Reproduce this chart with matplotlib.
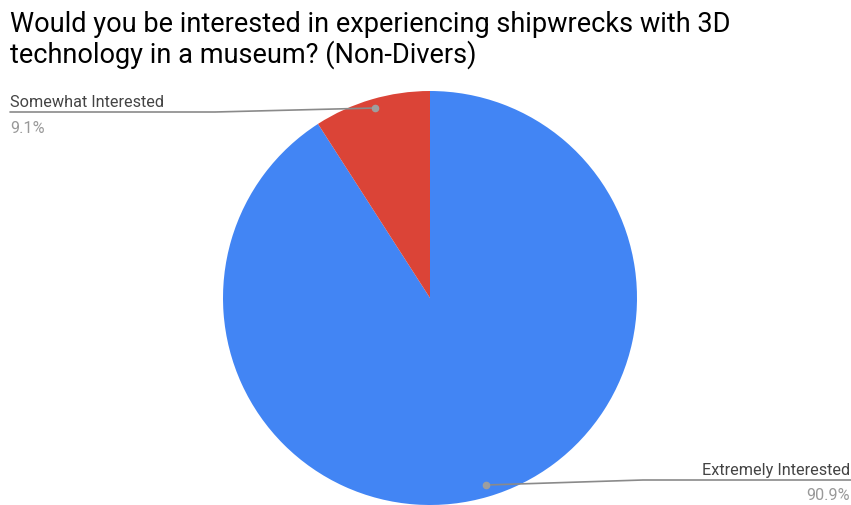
import matplotlib
matplotlib.use("Agg")
import matplotlib.pyplot as plt

TITLE_LINES = ["Would you be interested in experiencing shipwrecks with 3D",
               "technology in a museum? (Non-Divers)"]
LABELS = ["Extremely Interested", "Somewhat Interested"]
VALUES = [90.9, 9.1]
COLORS = ["#4285F4", "#DB4437"]

W, H = 851, 506
plt.rcParams["font.family"] = ["Roboto", "DejaVu Sans"]

fig = plt.figure(figsize=(W / 100, H / 100), dpi=100)
ax = fig.add_axes([0, 0, 1, 1])

# pixel-style coordinates: y measured from the top
def py(y):
    return H - y

cx, cy, r = 430, 299, 207
ax.pie(VALUES, colors=COLORS, startangle=90, counterclock=False,
       center=(cx, py(cy)), radius=r, wedgeprops=dict(linewidth=0))
ax.set_xlim(0, W)
ax.set_ylim(0, H)
ax.set_aspect("equal")
ax.axis("off")

for i, line in enumerate(TITLE_LINES):
    ax.text(10, py(32 + 31 * i), line, fontsize=19.5, color="#000000",
            va="baseline", ha="left")

line_kw = dict(color="#8a8a8a", lw=1.2, solid_capstyle="round")
dot_kw = dict(marker="o", markersize=4.5, color="#9e9e9e", linestyle="none")
lab_kw = dict(fontsize=11.7, va="baseline")

# Somewhat Interested (left)
ax.plot([10, 215, 375], [py(113), py(113), py(109)], **line_kw)
ax.plot([375], [py(109)], **dot_kw)
ax.text(10, py(107), LABELS[1], color="#444444", ha="left", **lab_kw)
ax.text(10, py(133), f"{VALUES[1]}%", color="#999999", ha="left", **lab_kw)

# Extremely Interested (right)
ax.plot([486, 643, W], [py(486), py(481), py(481)], **line_kw)
ax.plot([486], [py(486)], **dot_kw)
ax.text(W - 1, py(475), LABELS[0], color="#444444", ha="right", **lab_kw)
ax.text(W - 1, py(500), f"{VALUES[0]}%", color="#999999", ha="right", **lab_kw)

fig.savefig("out.png", dpi=100)
